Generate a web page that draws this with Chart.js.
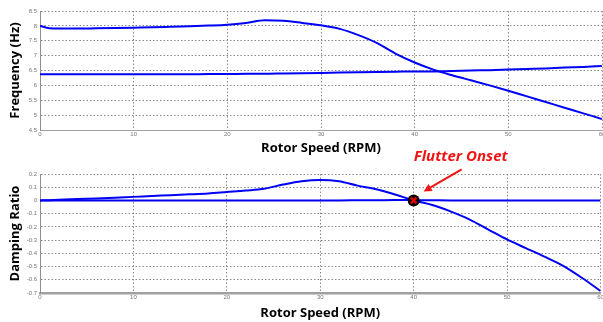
<!DOCTYPE html>
<html lang="en">
<head>
<meta charset="UTF-8">
<title>Flutter Onset</title>
<style>
  html, body { margin: 0; padding: 0; background: #fff; overflow: hidden; }
  .box { position: absolute; left: 0; width: 607px; }
  #top { top: 0; height: 160px; }
  #bot { top: 145px; height: 177px; }
</style>
</head>
<body>
<div class="box" id="top"><canvas id="freqChart"></canvas></div>
<div class="box" id="bot"><canvas id="dampChart"></canvas></div>

<script src="https://cdn.jsdelivr.net/npm/chart.js"></script>
<script>
const rpm       = [0, 1, 2, 4, 6, 8, 10, 12, 14, 16, 18, 20, 22, 24, 26, 28, 30, 32, 34, 36, 38, 40, 42, 44, 46, 48, 50, 52, 54, 56, 58, 60];
const freqMode1 = [8.0, 7.92, 7.91, 7.91, 7.92, 7.93, 7.94, 7.95, 7.97, 7.99, 8.01, 8.04, 8.1, 8.19, 8.17, 8.1, 8.02, 7.9, 7.69, 7.42, 7.06, 6.77, 6.53, 6.34, 6.17, 6.0, 5.82, 5.63, 5.44, 5.25, 5.06, 4.87];
const freqMode2 = [6.37, 6.37, 6.37, 6.37, 6.37, 6.37, 6.37, 6.37, 6.37, 6.37, 6.38, 6.38, 6.39, 6.39, 6.4, 6.41, 6.42, 6.43, 6.44, 6.45, 6.46, 6.47, 6.47, 6.48, 6.5, 6.51, 6.53, 6.55, 6.57, 6.6, 6.62, 6.65];
const dampMode1 = [0, 0.002, 0.005, 0.01, 0.015, 0.02, 0.027, 0.033, 0.04, 0.046, 0.053, 0.064, 0.075, 0.089, 0.12, 0.145, 0.155, 0.145, 0.112, 0.085, 0.045, 0, -0.035, -0.085, -0.145, -0.22, -0.295, -0.36, -0.425, -0.495, -0.585, -0.685];
const dampMode2 = [0, 0, 0, 0, 0, 0, 0, 0, 0, 0, 0, 0, 0, 0, 0, 0, 0, 0, 0.001, 0.002, 0.003, 0.002, 0.001, 0, 0, 0, 0, 0, 0, 0, 0, 0];
const onset     = [40, 0];

const rpmTicks  = [0, 10, 20, 30, 40, 50, 60];
const freqTicks = [4.5, 5, 5.5, 6, 6.5, 7, 7.5, 8, 8.5];
const dampTicks = [-0.7, -0.6, -0.5, -0.4, -0.3, -0.2, -0.1, 0, 0.1, 0.2];

const BLUE = '#0000f5';
const pts = ys => rpm.map((x, i) => ({ x: x, y: ys[i] }));

function lineSet(ys) {
  return { data: pts(ys), borderColor: BLUE, borderWidth: 2, pointRadius: 0,
           cubicInterpolationMode: 'monotone', fill: false };
}

function fixedTicks(list) {
  return scale => { scale.ticks = list.map(v => ({ value: v })); };
}

const tickFont = { size: 6, family: 'Arial' };
const titleFont = { size: 13, weight: 'bold', family: 'Open Sans' };

function makeScales(yTicks, yTitle, xHeight, xPadBottom, xBorderWidth) {
  return {
    x: {
      type: 'linear',
      min: 0, max: 60,
      afterBuildTicks: fixedTicks(rpmTicks),
      afterFit: s => { s.height = xHeight; },
      ticks: { color: '#777', font: tickFont, padding: 1, maxRotation: 0 },
      grid: { color: '#8a8a8a', drawTicks: false },
      border: { color: '#a0a0a0', width: xBorderWidth, dash: [1.5, 2] },
      title: { display: true, text: 'Rotor Speed (RPM)', color: '#000', font: titleFont,
               padding: { top: 0, bottom: xPadBottom } }
    },
    y: {
      min: yTicks[0], max: yTicks[yTicks.length - 1],
      afterBuildTicks: fixedTicks(yTicks),
      afterFit: s => { s.width = 40; },
      ticks: { color: '#777', font: tickFont, padding: 3, callback: v => String(v) },
      grid: { color: '#8a8a8a', drawTicks: false },
      border: { color: '#909090', width: 1, dash: [1.5, 2] },
      title: { display: true, text: yTitle, color: '#000', font: titleFont,
               padding: { top: 7, bottom: 0 } }
    }
  };
}

// red label + arrow pointing at the onset marker
const onsetNote = {
  id: 'onsetNote',
  afterDraw(chart) {
    const { ctx, scales: { x, y } } = chart;
    const px = x.getPixelForValue(onset[0]);
    const py = y.getPixelForValue(onset[1]);
    ctx.save();
    ctx.strokeStyle = '#f01414';
    ctx.fillStyle = '#f01414';
    ctx.lineWidth = 2;
    const tx = px + 10, ty = py - 9, sx = px + 48, sy = py - 31;
    const ang = Math.atan2(ty - sy, tx - sx);
    const hx = tx - 8 * Math.cos(ang), hy = ty - 8 * Math.sin(ang);
    ctx.beginPath();
    ctx.moveTo(sx, sy);
    ctx.lineTo(hx, hy);
    ctx.stroke();
    ctx.beginPath();
    ctx.moveTo(tx, ty);
    ctx.lineTo(hx + 4 * Math.sin(ang), hy - 4 * Math.cos(ang));
    ctx.lineTo(hx - 4 * Math.sin(ang), hy + 4 * Math.cos(ang));
    ctx.closePath();
    ctx.fill();
    ctx.font = 'italic bold 15px "Open Sans"';
    ctx.textAlign = 'center';
    ctx.textBaseline = 'middle';
    ctx.fillText('Flutter Onset', px + 47, py - 44);
    ctx.restore();
  }
};

function baseOptions(scales, padTop) {
  return {
    responsive: true,
    maintainAspectRatio: false,
    animation: false,
    layout: { padding: { top: padTop, right: 5, left: 0, bottom: 0 } },
    plugins: { legend: { display: false }, tooltip: { enabled: false } },
    scales: scales
  };
}

new Chart(document.getElementById('freqChart'), {
  type: 'line',
  data: { datasets: [lineSet(freqMode1), lineSet(freqMode2)] },
  options: baseOptions(makeScales(freqTicks, 'Frequency (Hz)', 30, 4, 1), 11)
});

new Chart(document.getElementById('dampChart'), {
  type: 'line',
  data: {
    datasets: [
      { data: [{ x: onset[0], y: onset[1] }], pointStyle: 'crossRot', pointRadius: 4,
        borderColor: '#e00000', borderWidth: 2.5, showLine: false },
      { data: [{ x: onset[0], y: onset[1] }], pointStyle: 'circle', pointRadius: 6,
        backgroundColor: '#000', borderColor: '#000', borderWidth: 0, showLine: false },
      lineSet(dampMode1),
      lineSet(dampMode2)
    ]
  },
  options: baseOptions(makeScales(dampTicks, 'Damping Ratio', 29, 1, 2.5), 29),
  plugins: [onsetNote]
});
</script>
</body>
</html>
